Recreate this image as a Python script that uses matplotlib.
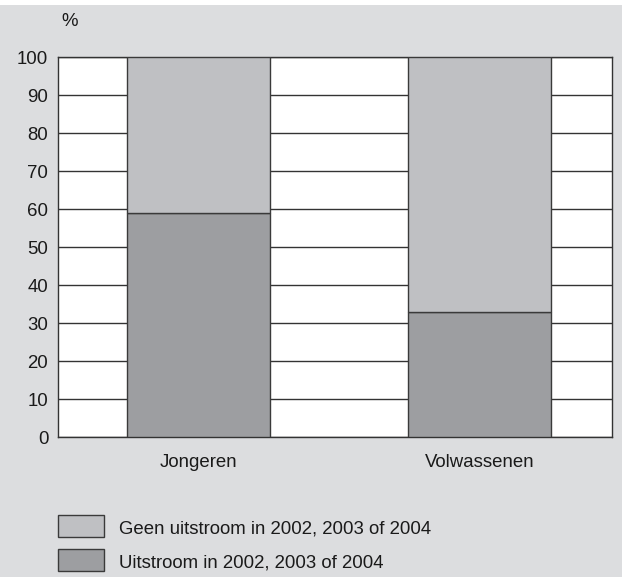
import matplotlib.pyplot as plt
from matplotlib.patches import Rectangle

plt.rcParams['font.family'] = ['Liberation Sans', 'DejaVu Sans']

categories = ['Jongeren', 'Volwassenen']
uitstroom = [59, 33]
geen_uitstroom = [41, 67]
legend_labels = ['Geen uitstroom in 2002, 2003 of 2004', 'Uitstroom in 2002, 2003 of 2004']
yticks = list(range(0, 101, 10))

c_top = '#bfc0c3'
c_bot = '#9d9ea1'
edge = '#3a3a3a'
fs = 13.4

fig = plt.figure(figsize=(6.29, 5.81), dpi=100)
fig.patch.set_facecolor('white')
# grey panel behind the chart
fig.add_artist(Rectangle((0, 4 / 581), 622 / 629, 1 - 9 / 581, transform=fig.transFigure,
                         facecolor='#dcdddf', edgecolor='none', zorder=-5))

ax = fig.add_axes([58 / 629, 1 - 437 / 581, 554 / 629, 380 / 581])
ax.set_zorder(1)
ax.set_facecolor('white')
x = range(len(categories))
ax.bar(x, uitstroom, width=0.509, color=c_bot, edgecolor=edge, linewidth=1, zorder=3)
ax.bar(x, geen_uitstroom, bottom=uitstroom, width=0.509, color=c_top, edgecolor=edge, linewidth=1, zorder=3)

ax.set_xlim(-0.5, 1.4715)
ax.set_ylim(0, 100)
ax.set_yticks(yticks)
ax.set_xticks(list(x))
ax.set_xticklabels(categories)
ax.tick_params(length=0, labelsize=fs, colors='#1a1a1a', pad=7)
ax.tick_params(axis='x', pad=12)
ax.yaxis.grid(True, color='#333333', linewidth=1)
ax.set_axisbelow(True)
for s in ax.spines.values():
    s.set_color('#333333')
    s.set_linewidth(1)

fig.text(61 / 629, 1 - 22 / 581, '%', fontsize=fs, color='#1a1a1a', va='center', ha='left')

# legend
for i, (lab, col) in enumerate(zip(legend_labels, [c_top, c_bot])):
    y0 = 515 + i * 34
    fig.add_artist(Rectangle((58 / 629, 1 - (y0 + 22) / 581), 46 / 629, 22 / 581,
                             transform=fig.transFigure, facecolor=col,
                             edgecolor=edge, linewidth=1, zorder=2))
    fig.text(119 / 629, 1 - (y0 + 14) / 581, lab, fontsize=fs, color='#1a1a1a',
             va='center', ha='left')

fig.savefig('out.png', dpi=100, facecolor=fig.get_facecolor())
